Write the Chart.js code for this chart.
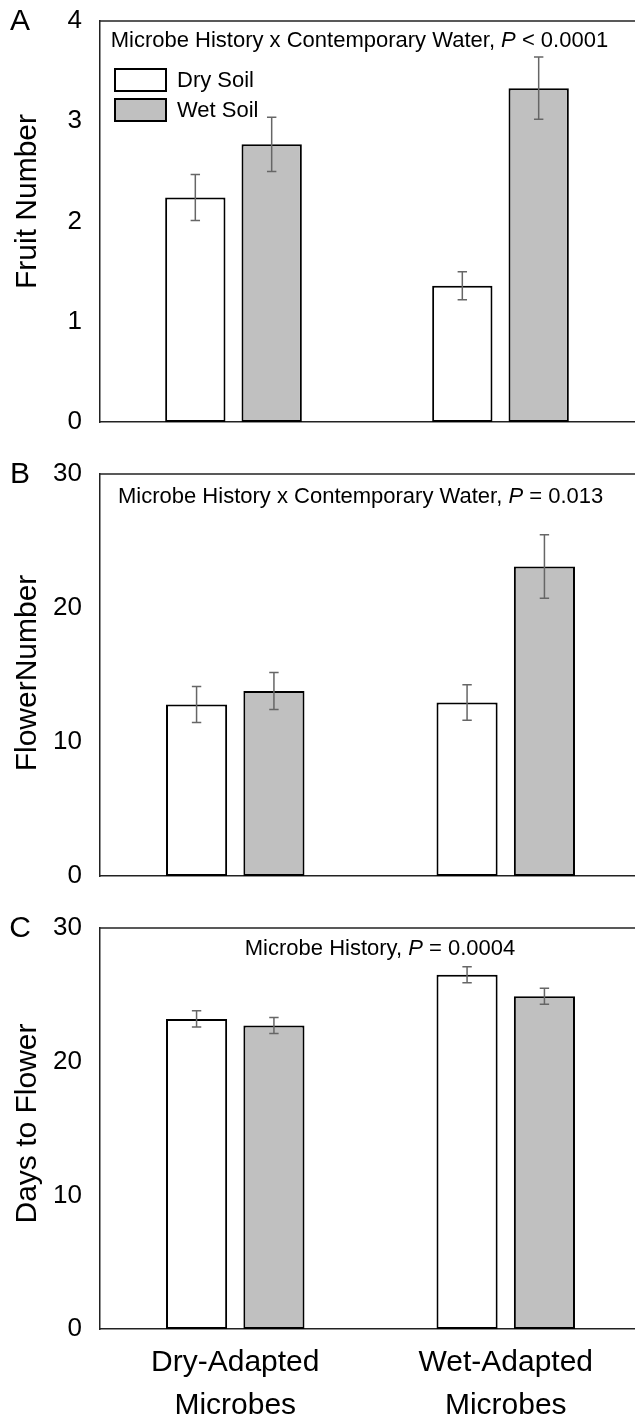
<!DOCTYPE html>
<html><head><meta charset="utf-8">
<script src="https://cdn.jsdelivr.net/npm/chart.js@4.4.0/dist/chart.umd.min.js"></script>
<style>
html,body{margin:0;padding:0;background:#fff;overflow:hidden;width:635px;height:1419px;}
#wrap{position:relative;width:635px;height:1419px;overflow:hidden;background:#fff;}
canvas{position:absolute;left:0;}
</style></head><body>
<div id="wrap">
<canvas id="cA" width="636" height="442" style="top:0px"></canvas>
<canvas id="cB" width="643" height="446" style="top:450px"></canvas>
<canvas id="cC" width="643" height="519" style="top:900px"></canvas>
</div>
<script>
// ---- data ----
const categories = [["Dry-Adapted", "Microbes"], ["Wet-Adapted", "Microbes"]];
const seriesNames = ["Dry Soil", "Wet Soil"];

const fruitDry = [2.24, 1.36];
const fruitWet = [2.77, 3.33];
const fruitDrySE = [0.23, 0.14];
const fruitWetSE = [0.27, 0.31];
const fruitTicks = [0, 1, 2, 3, 4];

const flowerDry = [12.8, 12.95];
const flowerWet = [13.8, 23.1];
const flowerDrySE = [1.35, 1.32];
const flowerWetSE = [1.38, 2.37];
const flowerTicks = [0, 10, 20, 30];

const daysDry = [23.2, 26.5];
const daysWet = [22.7, 24.9];
const daysDrySE = [0.6, 0.6];
const daysWetSE = [0.6, 0.6];
const daysTicks = [0, 10, 20, 30];

const yTitles = ["Fruit Number", "FlowerNumber", "Days to Flower"];
const panelLetters = ["A", "B", "C"];
const notes = [
  [["Microbe History x Contemporary Water, ", false], ["P", true], [" < 0.0001", false]],
  [["Microbe History x Contemporary Water, ", false], ["P", true], [" = 0.013", false]],
  [["Microbe History, ", false], ["P", true], [" = 0.0004", false]]
];

// ---- styling ----
const FONT = "'Liberation Sans', Arial, Helvetica, sans-serif";
const FILLS = ["#ffffff", "#c0c0c0"];
const FRAME = "#222222";

const panelPlugin = {
  id: 'panel',
  afterDatasetsDraw(chart) {
    const ctx = chart.ctx;
    const ys = chart.scales.y;
    ctx.save();
    ctx.strokeStyle = '#666666';
    ctx.lineWidth = 1.5;
    chart.data.datasets.forEach((ds, i) => {
      const meta = chart.getDatasetMeta(i);
      meta.data.forEach((bar, j) => {
        const v = ds.data[j], se = ds.se[j];
        const yt = ys.getPixelForValue(v + se), yb = ys.getPixelForValue(v - se);
        const x = bar.x, c = 4.7;
        ctx.beginPath();
        ctx.moveTo(x, yt); ctx.lineTo(x, yb);
        ctx.moveTo(x - c, yt); ctx.lineTo(x + c, yt);
        ctx.moveTo(x - c, yb); ctx.lineTo(x + c, yb);
        ctx.stroke();
      });
    });
    ctx.restore();
  },
  afterDraw(chart, args, opts) {
    const ctx = chart.ctx, a = chart.chartArea;
    ctx.save();
    // top frame line
    ctx.strokeStyle = FRAME; ctx.lineWidth = 1.5;
    ctx.beginPath(); ctx.moveTo(a.left, a.top); ctx.lineTo(chart.width, a.top); ctx.stroke();
    // panel letter
    ctx.fillStyle = '#000';
    ctx.font = '30px ' + FONT;
    ctx.textAlign = 'center'; ctx.textBaseline = 'middle';
    ctx.fillText(opts.letter, 20, a.top + 1);
    // y-axis title (rotated)
    ctx.save();
    ctx.translate(28, (a.top + a.bottom) / 2 + opts.titleShift);
    ctx.rotate(-Math.PI / 2);
    ctx.font = '30px ' + FONT;
    ctx.fillText(opts.title, 0, 0);
    ctx.restore();
    // annotation
    let total = 0;
    const widths = opts.note.map(p => {
      ctx.font = (p[1] ? 'italic ' : '') + '22px ' + FONT;
      const w = ctx.measureText(p[0]).width; total += w; return w;
    });
    let x = opts.noteX === 'center' ? (opts.noteCenter - total / 2) : opts.noteX;
    const y = a.top + opts.noteDy;
    ctx.textAlign = 'left';
    opts.note.forEach((p, k) => {
      ctx.font = (p[1] ? 'italic ' : '') + '22px ' + FONT;
      ctx.fillText(p[0], x, y);
      x += widths[k];
    });
    // legend
    if (opts.legend) {
      ctx.font = '22px ' + FONT;
      chart.data.datasets.forEach((ds, i) => {
        const bx = a.left + 15, by = a.top + 48 + i * 30, bw = 51, bh = 22;
        ctx.fillStyle = ds.backgroundColor;
        ctx.fillRect(bx, by, bw, bh);
        ctx.strokeStyle = '#000'; ctx.lineWidth = 2;
        ctx.strokeRect(bx, by, bw, bh);
        ctx.fillStyle = '#000';
        ctx.fillText(ds.label, bx + bw + 11, by + bh / 2 + 1);
      });
    }
    ctx.restore();
  }
};

function makeChart(id, dry, wet, drySE, wetSE, ticks, idx, opt) {
  const ymax = ticks[ticks.length - 1];
  return new Chart(document.getElementById(id), {
    type: 'bar',
    data: {
      labels: categories,
      datasets: [
        { label: seriesNames[0], data: dry, se: drySE, backgroundColor: FILLS[0] },
        { label: seriesNames[1], data: wet, se: wetSE, backgroundColor: FILLS[1] }
      ]
    },
    options: {
      responsive: false,
      animation: false,
      devicePixelRatio: 1,
      layout: { padding: { top: opt.padTop, right: 2, bottom: opt.padBottom, left: 0 } },
      datasets: {
        bar: {
          borderColor: '#000', borderWidth: 2, borderSkipped: false,
          barPercentage: 0.79, categoryPercentage: 0.572
        }
      },
      scales: {
        x: {
          grid: { display: false, drawTicks: false },
          border: { display: true, color: FRAME, width: 1.5 },
          ticks: {
            display: opt.xLabels, color: '#000', padding: 12,
            font: { family: FONT, size: 30, lineHeight: 1.43 }, maxRotation: 0, autoSkip: false
          },
          afterFit: s => {
            s.height = opt.xHeight;
            s.paddingLeft = 0; s.paddingRight = 0; s.paddingTop = 0; s.paddingBottom = 0;
          }
        },
        y: {
          min: 0, max: ymax,
          afterBuildTicks: s => { s.ticks = ticks.map(v => ({ value: v })); },
          grid: { display: false, drawTicks: false },
          border: { display: true, color: FRAME, width: 1.5 },
          ticks: { color: '#000', padding: 18, font: { family: FONT, size: 26 } },
          title: { display: false, text: yTitles[idx] },
          afterFit: s => {
            s.width = 100;
            s.paddingLeft = 0; s.paddingRight = 0; s.paddingTop = 0; s.paddingBottom = 0;
          }
        }
      },
      plugins: {
        legend: { display: false },
        tooltip: { enabled: false },
        panel: {
          letter: panelLetters[idx], note: notes[idx], title: yTitles[idx],
          titleShift: opt.titleShift,
          noteX: opt.noteX, noteCenter: opt.noteCenter, noteDy: opt.noteDy,
          legend: opt.legend
        }
      }
    },
    plugins: [panelPlugin]
  });
}

makeChart('cA', fruitDry, fruitWet, fruitDrySE, fruitWetSE, fruitTicks, 0,
  { padTop: 21, padBottom: 20, xHeight: 0, xLabels: false, noteX: 110.7, noteDy: 20, legend: true, titleShift: -20 });
makeChart('cB', flowerDry, flowerWet, flowerDrySE, flowerWetSE, flowerTicks, 1,
  { padTop: 24, padBottom: 20, xHeight: 0, xLabels: false, noteX: 118, noteDy: 23, legend: false, titleShift: -2 });
makeChart('cC', daysDry, daysWet, daysDrySE, daysWetSE, daysTicks, 2,
  { padTop: 28, padBottom: 0, xHeight: 90, xLabels: true, noteX: 'center', noteCenter: 380, noteDy: 21, legend: false, titleShift: -5 });
</script>
</body></html>
